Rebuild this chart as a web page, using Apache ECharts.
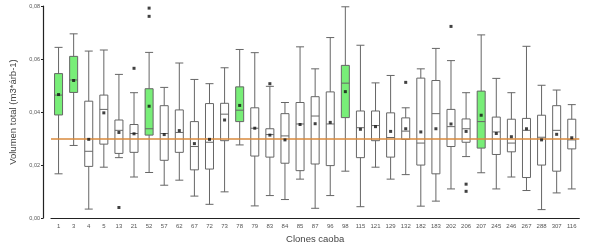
<!DOCTYPE html>
<html lang="es">
<head>
    <meta charset="UTF-8">
    <title>Clones caoba</title>
    <script src="https://cdn.jsdelivr.net/npm/echarts@6/dist/echarts.min.js"></script>
    <style>
        * { margin: 0; padding: 0 }
        html, body { width: 100%; height: 100%; background: #fff }
        #main { width: 594px; height: 249px }
    </style>
</head>
<body>
    <div id="main"></div>
    <script type="text/javascript">
        // clones (eje x)
        var clones = ['1', '3', '4', '5', '13', '21', '52', '57', '62', '67', '72', '73', '78', '79', '83', '84', '85', '87',
            '96', '98', '115', '121', '129', '132', '182', '183', '202', '206', '207', '245', '246', '267', '288', '307', '116'];
        var minV = [0.0167, 0.0274, 0.0034, 0.0192, 0.0228, 0.0155, 0.0172, 0.0124, 0.0143, 0.0083, 0.0052, 0.0099, 0.0276, 0.0046,
            0.0085, 0.0070, 0.0147, 0.0037, 0.0085, 0.0177, 0.0043, 0.0192, 0.0147, 0.0164, 0.0045, 0.0064, 0.0110, 0.0232,
            0.0171, 0.0110, 0.0155, 0.0104, 0.0032, 0.0095, 0.0110];
        var q1V = [0.0389, 0.0474, 0.0195, 0.0279, 0.0244, 0.0248, 0.0313, 0.0218, 0.0248, 0.0182, 0.0185, 0.0292, 0.0364, 0.0234,
            0.0230, 0.0207, 0.0179, 0.0204, 0.0198, 0.0379, 0.0228, 0.0292, 0.0230, 0.0297, 0.0200, 0.0167, 0.0270, 0.0286,
            0.0264, 0.0240, 0.0250, 0.0153, 0.0200, 0.0177, 0.0261];
        var medV = [0.0464, 0.0521, 0.0252, 0.0410, 0.0331, 0.0319, 0.0337, 0.0319, 0.0323, 0.0270, 0.0286, 0.0392, 0.0407, 0.0339,
            0.0315, 0.0310, 0.0355, 0.0385, 0.0355, 0.0509, 0.0341, 0.0349, 0.0304, 0.0328, 0.0283, 0.0394, 0.0345, 0.0337,
            0.0364, 0.0325, 0.0283, 0.0331, 0.0305, 0.0331, 0.0295];
        var q3V = [0.0545, 0.0610, 0.0441, 0.0464, 0.0370, 0.0353, 0.0488, 0.0424, 0.0408, 0.0364, 0.0432, 0.0433, 0.0495, 0.0416,
            0.0337, 0.0394, 0.0436, 0.0458, 0.0476, 0.0576, 0.0404, 0.0404, 0.0397, 0.0378, 0.0528, 0.0519, 0.0410, 0.0374,
            0.0479, 0.0381, 0.0373, 0.0376, 0.0388, 0.0424, 0.0373];
        var maxV = [0.0644, 0.0695, 0.0630, 0.0634, 0.0542, 0.0473, 0.0625, 0.0493, 0.0585, 0.0523, 0.0507, 0.0567, 0.0636, 0.0624,
            0.0497, 0.0436, 0.0646, 0.0563, 0.0681, 0.0797, 0.0652, 0.0510, 0.0538, 0.0416, 0.0563, 0.0640, 0.0594, 0.0473,
            0.0691, 0.0527, 0.0473, 0.0648, 0.0501, 0.0483, 0.0428];
        var meanV = [0.0466, 0.0519, 0.0297, 0.0397, 0.0323, 0.0318, 0.0422, 0.0315, 0.0330, 0.0281, 0.0297, 0.0370, 0.0425, 0.0339,
            0.0313, 0.0295, 0.0353, 0.0356, 0.0361, 0.0477, 0.0335, 0.0345, 0.0327, 0.0337, 0.0325, 0.0337, 0.0355, 0.0327,
            0.0388, 0.0319, 0.0307, 0.0337, 0.0295, 0.0316, 0.0303];
        // valores atipicos [clon, valor]
        var outliers = [['13', 0.0040], ['21', 0.0565], ['52', 0.0792], ['52', 0.0761], ['83', 0.0507], ['132', 0.0512],
            ['202', 0.0723], ['206', 0.0128], ['206', 0.0101]];
        var greenClones = ['1', '3', '52', '78', '98', '207'];
        var refLine = 0.03;

        var boxData = clones.map(function (c, i) {
            var item = { value: [minV[i], q1V[i], medV[i], q3V[i], maxV[i]] };
            if (greenClones.indexOf(c) >= 0) {
                item.itemStyle = { color: '#78ee78' };
            }
            return item;
        });
        var meanData = clones.map(function (c, i) { return [i, meanV[i]]; });
        var outData = outliers.map(function (o) { return [clones.indexOf(o[0]), o[1]]; });

        var myChart = echarts.init(document.getElementById('main'));
        var option = {
            animation: false,
            grid: { left: 45.7, right: 14.7, top: 6, bottom: 23 },
            xAxis: {
                type: 'category',
                data: clones,
                boundaryGap: true,
                name: 'Clones caoba',
                nameLocation: 'middle',
                nameGap: 12,
                nameTextStyle: { fontSize: 9.5, color: '#444', fontFamily: 'Liberation Sans' },
                axisLine: { lineStyle: { color: '#222', width: 1.2 } },
                axisTick: { length: 2, alignWithLabel: true, interval: 0, lineStyle: { color: '#222' } },
                axisLabel: { interval: 0, fontSize: 6, color: '#555', margin: 5, fontFamily: 'Liberation Sans' },
                splitLine: { show: false }
            },
            yAxis: {
                type: 'value',
                min: 0,
                max: 0.08,
                interval: 0.02,
                offset: 8,
                name: 'Volumen total (m3*árb-1)',
                nameLocation: 'middle',
                nameGap: 25,
                nameTextStyle: { fontSize: 9.5, color: '#444', fontFamily: 'Liberation Sans' },
                axisLine: { show: true, lineStyle: { color: '#222', width: 1.2 } },
                axisTick: { show: true, length: 2, lineStyle: { color: '#222' } },
                axisLabel: {
                    fontSize: 5.5, color: '#555', margin: 3, fontFamily: 'Liberation Sans',
                    formatter: function (v) { return v.toFixed(2).replace('.', ','); }
                },
                splitLine: { show: false }
            },
            series: [{
                type: 'boxplot',
                data: boxData,
                boxWidth: [8, 8],
                itemStyle: { color: '#fff', borderColor: '#666', borderWidth: 1 },
                markLine: {
                    silent: true,
                    symbol: 'none',
                    label: { show: false },
                    lineStyle: { color: '#d98a3c', width: 1.5, type: 'solid' },
                    data: [{ yAxis: refLine }]
                },
                z: 2
            }, {
                type: 'scatter',
                data: meanData,
                symbol: 'rect',
                symbolSize: 3,
                itemStyle: { color: '#111' },
                z: 5
            }, {
                type: 'scatter',
                data: outData,
                symbol: 'rect',
                symbolSize: 3,
                itemStyle: { color: '#111' },
                z: 5
            }]
        };
        myChart.setOption(option);
    </script>
</body>
</html>
